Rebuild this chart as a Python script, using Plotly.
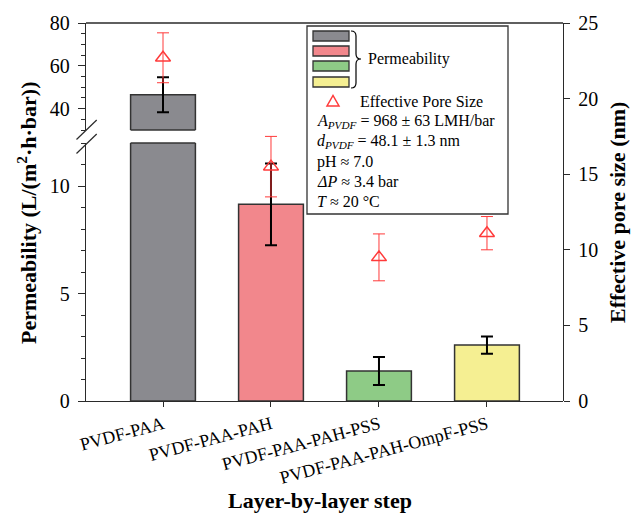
import plotly.graph_objects as go

# ---------------- data ----------------
categories = ["PVDF-PAA", "PVDF-PAA-PAH", "PVDF-PAA-PAH-PSS", "PVDF-PAA-PAH-OmpF-PSS"]
permeability = [46.5, 9.15, 1.4, 2.6]
permeability_err = [8.2, 1.9, 0.65, 0.4]
pore_size = [22.7, 15.5, 9.5, 11.1]
pore_size_err = [1.65, 2.0, 1.55, 1.1]
bar_colors = ["#8a8a8f", "#f2878c", "#8ecb86", "#f5ef92"]

lower_ticks = [0, 5, 10]
upper_ticks = [40, 60, 80]
right_ticks = [0, 5, 10, 15, 20, 25]

legend_lines = [
    "<i>A</i><sub><i>PVDF</i></sub> = 968 ± 63 LMH/bar",
    "<i>d</i><sub><i>PVDF</i></sub> = 48.1 ± 1.3 nm",
    "pH ≈ 7.0",
    "<i>ΔP</i> ≈ 3.4 bar",
    "<i>T</i> ≈ 20 °C",
]

# ---------------- geometry helpers ----------------
W, H = 638, 515
L, R, T, B = 86, 563, 23, 401
LOW_TOP = 143
UP_BOT = 130


def px(x):
    return (x - L) / (R - L)


def py(y):
    return (B - y) / (B - T)


FONT = "Liberation Serif"
AX = "#2a2a2a"
RED = "#ff3a3a"

fig = go.Figure()
for yax in ["y", "y2"]:
    fig.add_trace(go.Bar(
        x=categories, y=permeability, yaxis=yax, width=0.6,
        marker=dict(color=bar_colors, line=dict(color="#333333", width=1.5)),
        error_y=dict(type="data", array=permeability_err, color="black",
                     thickness=2, width=6),
        showlegend=False))

fig.add_trace(go.Scatter(
    x=categories, y=pore_size, yaxis="y3", mode="markers",
    marker=dict(symbol="triangle-up-open", size=13, color=RED, line=dict(width=1.5, color=RED)),
    error_y=dict(type="data", array=pore_size_err, color=RED, thickness=1, width=6),
    showlegend=False))

tickfont = dict(family=FONT, size=20, color="black")

fig.update_layout(
    width=W, height=H,
    margin=dict(l=L, r=W - R, t=T, b=H - B, pad=0),
    paper_bgcolor="white", plot_bgcolor="rgba(0,0,0,0)",
    font=dict(family=FONT, color="black"),
    bargap=0.4,
    xaxis=dict(type="category", range=[-0.713, 3.704], tickangle=-15,
               ticks="outside", ticklen=5, tickcolor=AX, showline=True,
               linecolor=AX, linewidth=1.3, showgrid=False, zeroline=False,
               tickfont=dict(family=FONT, size=18, color="black"),
               anchor="y"),
    yaxis=dict(domain=[0, py(LOW_TOP)], range=[0, 12], tickvals=lower_ticks,
               ticks="outside", ticklen=7, tickcolor=AX, showline=True,
               linecolor=AX, linewidth=1.3, showgrid=False, zeroline=False,
               tickfont=tickfont, ticklabelstandoff=4,
               minor=dict(dtick=1, tick0=0, ticks="outside", ticklen=4, tickcolor=AX, showgrid=False),
               anchor="x"),
    yaxis2=dict(domain=[py(UP_BOT), 1], range=[30, 80], tickvals=upper_ticks,
                ticks="outside", ticklen=7, tickcolor=AX, showline=True,
                linecolor=AX, linewidth=1.3, showgrid=False, zeroline=False,
                tickfont=tickfont, ticklabelstandoff=4,
                minor=dict(dtick=5, tick0=0, ticks="outside", ticklen=4, tickcolor=AX, showgrid=False),
                anchor="x"),
    yaxis3=dict(domain=[0, 1], range=[0, 25], tickvals=right_ticks, side="right",
                ticks="outside", ticklen=6, tickcolor=AX, showline=True,
                linecolor=AX, linewidth=1.3, showgrid=False, zeroline=False,
                tickfont=tickfont, ticklabelstandoff=4, anchor="x"),
)

shapes = []
# top frame line
shapes.append(dict(type="line", xref="paper", yref="paper", x0=0, x1=1, y0=1, y1=1,
                   line=dict(color=AX, width=1.3)))
# borders of broken bar at the break
shapes.append(dict(type="line", xref="x", yref="y domain", x0=-0.3, x1=0.3, y0=1, y1=1,
                   line=dict(color="#333333", width=1.5)))
shapes.append(dict(type="line", xref="x", yref="y2 domain", x0=-0.3, x1=0.3, y0=0, y1=0,
                   line=dict(color="#333333", width=1.5)))
# break slashes
for (x0, y0, x1, y1) in [(76.5, 139.5, 96.7, 120), (76.5, 153.5, 96.7, 134)]:
    shapes.append(dict(type="line", xref="paper", yref="paper",
                       x0=px(x0), y0=py(y0), x1=px(x1), y1=py(y1),
                       line=dict(color=AX, width=1.2)))
# legend box
shapes.append(dict(type="rect", xref="paper", yref="paper",
                   x0=px(307), x1=px(508), y0=py(214), y1=py(26),
                   line=dict(color="#333333", width=1.3), fillcolor="white", layer="above"))
# swatches
for c, (ya, yb) in zip(bar_colors, [(31, 41), (46, 56), (61, 71), (77, 87)]):
    shapes.append(dict(type="rect", xref="paper", yref="paper",
                       x0=px(313), x1=px(349), y0=py(yb), y1=py(ya),
                       line=dict(color="#333333", width=1.3), fillcolor=c, layer="above"))


def P(x, y):
    return f"{px(x):.5f},{py(y):.5f}"


brace = (f"M {P(351,31)} Q {P(356,31)} {P(356,36)} L {P(356,54)} "
         f"Q {P(356,59)} {P(361,59)} Q {P(356,59)} {P(356,64)} "
         f"L {P(356,83)} Q {P(356,88)} {P(351,88)}")
shapes.append(dict(type="path", xref="paper", yref="paper", path=brace,
                   line=dict(color="black", width=1.2), layer="above"))
# legend triangle
tri = f"M {P(327,106)} L {P(339,106)} L {P(333,95.5)} Z"
shapes.append(dict(type="path", xref="paper", yref="paper", path=tri,
                   line=dict(color=RED, width=1.5), layer="above"))
fig.update_layout(shapes=shapes)

ann = []
# axis titles
ann.append(dict(text="<b>Permeability (L/(m<sup>2</sup>·h·bar))</b>", xref="paper", yref="paper",
                x=px(27), y=py(213), textangle=-90, showarrow=False,
                font=dict(family=FONT, size=22, color="black"), xanchor="center", yanchor="middle"))
ann.append(dict(text="<b>Effective pore size (nm)</b>", xref="paper", yref="paper",
                x=px(617), y=py(213), textangle=-90, showarrow=False,
                font=dict(family=FONT, size=22, color="black"), xanchor="center", yanchor="middle"))
ann.append(dict(text="<b>Layer-by-layer step</b>", xref="paper", yref="paper",
                x=px(320), y=py(500), showarrow=False,
                font=dict(family=FONT, size=22, color="black"), xanchor="center", yanchor="middle"))
# legend texts
ann.append(dict(text="Permeability", xref="paper", yref="paper", x=px(366), y=py(59),
                showarrow=False, xanchor="left", yanchor="middle",
                font=dict(family=FONT, size=16, color="black")))
ann.append(dict(text="Effective Pore Size", xref="paper", yref="paper", x=px(358), y=py(101),
                showarrow=False, xanchor="left", yanchor="middle",
                font=dict(family=FONT, size=16, color="black")))
for txt, yy in zip(legend_lines, [121, 141, 162, 182, 202]):
    ann.append(dict(text=txt, xref="paper", yref="paper", x=px(315), y=py(yy),
                    showarrow=False, xanchor="left", yanchor="middle",
                    font=dict(family=FONT, size=16, color="black")))
fig.update_layout(annotations=ann)

fig.write_html("out.html")
